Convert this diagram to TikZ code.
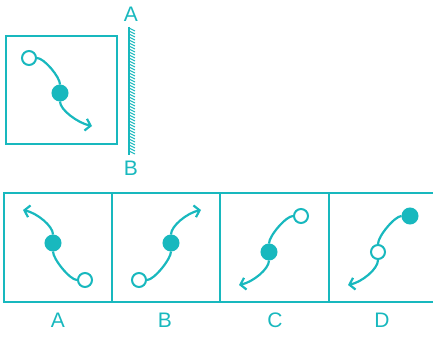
\documentclass[tikz,border=0pt]{standalone}
\usepackage{fontspec}
\setmainfont{Liberation Sans}
\usetikzlibrary{arrows.meta}
\definecolor{tealc}{RGB}{24,184,190}

\begin{document}
\begin{tikzpicture}[x=1pt, y=-1pt,
    frame/.style={draw=tealc, line width=2.8pt},
    opendot/.style={circle, draw=tealc, fill=white, line width=2pt, minimum size=14pt, inner sep=0pt},
    fulldot/.style={circle, draw=tealc, fill=tealc, line width=2pt, minimum size=15pt, inner sep=0pt},
    path/.style={draw=tealc, line width=2.2pt},
    tippath/.style={draw=tealc, line width=2.2pt, -{Straight Barb[length=5pt, width=12pt, line width=2.2pt]}},
    letter/.style={text=tealc, font=\fontsize{21}{21}\selectfont, inner sep=0pt}]
    \useasboundingbox (0,0) rectangle (433,337);

    % Question figure
    \draw[frame] (6,36) rectangle (117,144);
    \node[opendot] (qo) at (29,58) {};
    \node[fulldot] (qf) at (60,93) {};
    \coordinate (qt) at (92,126);
    \draw[path] (qo) .. controls +(15,0) and +(0,-16) .. (qf);
    \draw[tippath] (qf) .. controls +(0,17) and +(-14,-3) .. (qt);

    % Mirror
    \node[letter] (ma) at (131,14) {A};
    \node[letter] (mb) at (131,168) {B};
    \draw[draw=tealc, line width=2pt] (128.5,27) -- (128.5,155);
    \foreach \y in {28,31,...,152} {
        \draw[draw=tealc, line width=1pt] (129,\y) -- (135,\y+3);
    }

    % Answer frames
    \draw[frame] (4,193) rectangle (440,302);
    \foreach \x in {112,220,329} {
        \draw[frame] (\x,193) -- (\x,302);
    }

    % Option A
    \node[opendot] (ao) at (85,280) {};
    \node[fulldot] (af) at (53,243) {};
    \coordinate (at) at (23,210);
    \draw[path] (ao) .. controls +(-15,0) and +(0,16) .. (af);
    \draw[tippath] (af) .. controls +(0,-17) and +(14,3) .. (at);
    \node[letter] (la) at (58,320) {A};

    % Option B
    \node[opendot] (bo) at (139,280) {};
    \node[fulldot] (bf) at (171,243) {};
    \coordinate (bt) at (201,210);
    \draw[path] (bo) .. controls +(15,0) and +(0,16) .. (bf);
    \draw[tippath] (bf) .. controls +(0,-17) and +(-14,3) .. (bt);
    \node[letter] (lb) at (165,320) {B};

    % Option C
    \node[opendot] (co) at (301,216) {};
    \node[fulldot] (cf) at (269,252) {};
    \coordinate (ct) at (239,285);
    \draw[path] (co) .. controls +(-15,0) and +(0,-16) .. (cf);
    \draw[tippath] (cf) .. controls +(0,17) and +(14,-3) .. (ct);
    \node[letter] (lc) at (275,320) {C};

    % Option D
    \node[fulldot] (df) at (410,216) {};
    \node[opendot] (do) at (378,252) {};
    \coordinate (dt) at (348,285);
    \draw[path] (df) .. controls +(-15,0) and +(0,-16) .. (do);
    \draw[tippath] (do) .. controls +(0,17) and +(14,-3) .. (dt);
    \node[letter] (ld) at (382,320) {D};
\end{tikzpicture}
\end{document}
